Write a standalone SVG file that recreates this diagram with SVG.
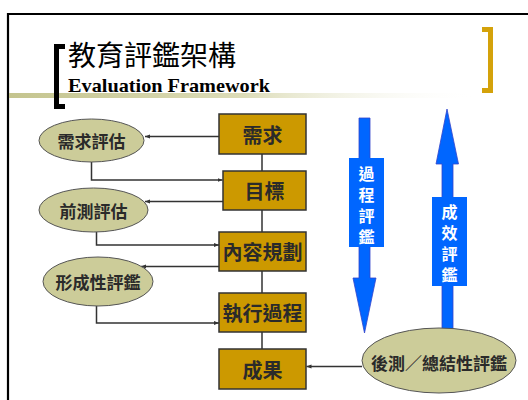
<svg xmlns="http://www.w3.org/2000/svg" width="528" height="400" viewBox="0 0 528 400">
<defs>
<linearGradient id="olive" x1="0" y1="0" x2="1" y2="0">
<stop offset="0" stop-color="#c4c48e"/>
<stop offset="0.5" stop-color="#dcdcb8"/>
<stop offset="1" stop-color="#ffffff" stop-opacity="0"/>
</linearGradient>
<marker id="ah" viewBox="0 0 10 10" refX="10" refY="5" markerWidth="5" markerHeight="5" orient="auto" markerUnits="userSpaceOnUse">
<path d="M0,1 L10,5 L0,9 z" fill="#333"/>
</marker>
<style>
.box{fill:#cc9900;stroke:#333;stroke-width:1.5}
.ell{fill:#cccc99;stroke:#555;stroke-width:1}
.bt{font-family:"Noto Sans CJK TC","Noto Sans CJK SC",sans-serif;font-weight:bold;font-size:20px;fill:#2a2a2a;text-anchor:middle;dominant-baseline:central}
.et{font-family:"Noto Sans CJK TC","Noto Sans CJK SC",sans-serif;font-weight:bold;font-size:17px;fill:#2a2a2a;text-anchor:middle;dominant-baseline:central}
.wt{font-family:"Noto Sans CJK TC","Noto Sans CJK SC",sans-serif;font-weight:bold;font-size:16px;fill:#fff;text-anchor:middle;writing-mode:vertical-rl;letter-spacing:5px}
.con{fill:none;stroke:#333;stroke-width:1.5}
.blue{fill:#0066ff;stroke:#3344cc;stroke-width:0.8}
</style>
</defs>
<rect width="528" height="400" fill="#fff"/>
<!-- frame -->
<path d="M8,400 V14 H530" fill="none" stroke="#000" stroke-width="2.2"/>
<!-- title decoration -->
<rect x="9" y="93" width="470" height="5" fill="url(#olive)"/>
<path d="M65,46.5 H56.5 V106.5 H65" fill="none" stroke="#000" stroke-width="5"/>
<path d="M482,29.5 H490.5 V90.5 H482" fill="none" stroke="#d4a20a" stroke-width="5"/>
<text x="68" y="66" font-family="'Noto Sans CJK TC','Noto Sans CJK SC',sans-serif" font-size="28" fill="#000">教育評鑑架構</text>
<text x="68" y="92" font-family="'Liberation Serif',serif" font-weight="bold" font-size="19" fill="#000" textLength="202" lengthAdjust="spacingAndGlyphs">Evaluation Framework</text>
<!-- connectors -->
<g id="connectors">
<path class="con" d="M262,154 V171 M262,210 V232 M262,271 V293 M262,332 V349"/>
<path class="con" d="M219,136.5 H145" marker-end="url(#ah)"/>
<path class="con" d="M91.5,162 V180 H222.5" marker-end="url(#ah)"/>
<path class="con" d="M223,201.5 H145" marker-end="url(#ah)"/>
<path class="con" d="M96.5,232 V245 H219" marker-end="url(#ah)"/>
<path class="con" d="M219,266.5 H141" marker-end="url(#ah)"/>
<path class="con" d="M96.5,306 V323 H219" marker-end="url(#ah)"/>
<path class="con" d="M362,366.5 H306.5" marker-end="url(#ah)"/>
</g>
<!-- boxes -->
<g id="n_need"><rect class="box" x="219" y="114" width="87" height="40"/><text class="bt" x="262.5" y="134">需求</text></g>
<g id="n_goal"><rect class="box" x="223" y="171" width="83" height="39"/><text class="bt" x="264.5" y="190.5">目標</text></g>
<g id="n_plan"><rect class="box" x="219" y="232" width="87" height="39"/><text class="bt" x="262.5" y="251.5">內容規劃</text></g>
<g id="n_exec"><rect class="box" x="219" y="293" width="87" height="39"/><text class="bt" x="262.5" y="312.5">執行過程</text></g>
<g id="n_result"><rect class="box" x="219" y="349" width="87" height="40"/><text class="bt" x="262.5" y="369">成果</text></g>
<!-- ellipses -->
<g id="e_need"><ellipse class="ell" cx="91.5" cy="140.5" rx="52.5" ry="21.5"/><text class="et" x="91.5" y="140.5">需求評估</text></g>
<g id="e_pre"><ellipse class="ell" cx="93.5" cy="210" rx="54.5" ry="22"/><text class="et" x="93.5" y="210">前測評估</text></g>
<g id="e_form"><ellipse class="ell" cx="98" cy="281.5" rx="55" ry="24.5"/><text class="et" x="98" y="281.5">形成性評鑑</text></g>
<!-- blue arrows -->
<g id="a_process">
<path class="blue" d="M359,118 H370 V278 H376 L364.5,333 L353,278 H359 Z"/>
<rect x="349" y="158" width="35" height="89" fill="#0066ff"/>
<text class="wt" x="366.5" y="208">過程評鑑</text>
</g>
<g id="a_effect">
<path class="blue" d="M447,109 L458.5,164 H453 V332 H442 V164 H436 Z"/>
<rect x="432" y="197" width="35" height="89" fill="#0066ff"/>
<text class="wt" x="449.5" y="245.5">成效評鑑</text>
</g>
<g id="e_post"><ellipse class="ell" cx="439" cy="360.5" rx="77" ry="32.5"/><text class="et" x="439" y="362">後測／總結性評鑑</text></g>
</svg>
